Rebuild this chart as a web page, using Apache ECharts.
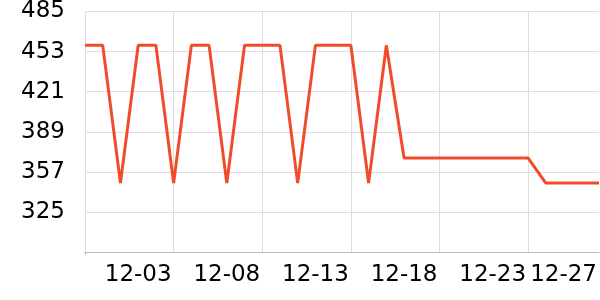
<!DOCTYPE html>
<html>
<head>
<meta charset="utf-8">
<script src="https://cdn.jsdelivr.net/npm/echarts@6/dist/echarts.min.js"></script>
<style>html,body{margin:0;padding:0;background:#fff}#c{width:600px;height:300px}</style>
</head>
<body>
<div id="c"></div>
<script>
const categories = ['11-30','12-01','12-02','12-03','12-04','12-05','12-06','12-07','12-08','12-09',
  '12-10','12-11','12-12','12-13','12-14','12-15','12-16','12-17','12-18','12-19',
  '12-20','12-21','12-22','12-23','12-24','12-25','12-26','12-27','12-28','12-29'];
const values = [458,458,348,458,458,348,458,458,348,458,
  458,458,348,458,458,458,348,458,368,368,
  368,368,368,368,368,368,348,348,348,348];
const labelDays = ['12-03','12-08','12-13','12-18','12-23','12-27'];
const yMin = 293, yMax = 485, yStep = 32;

const chart = echarts.init(document.getElementById('c'), null, {renderer: 'canvas'});
chart.setOption({
  animation: false,
  grid: {left: 85, right: 0, top: 10, bottom: 48, containLabel: false},
  xAxis: {
    type: 'category',
    data: categories,
    boundaryGap: false,
    axisLine: {lineStyle: {color: '#bbbbbb', width: 1}},
    axisTick: {show: true, length: 3, interval: (i) => i === 0, lineStyle: {color: '#bbbbbb'}},
    axisLabel: {
      interval: (i, v) => labelDays.indexOf(v) >= 0,
      color: '#000', fontFamily: 'DejaVu Sans', fontSize: 23, margin: 12
    },
    splitLine: {show: true, interval: 4, lineStyle: {color: '#dddddd', width: 1}}
  },
  yAxis: {
    type: 'value',
    min: yMin, max: yMax, interval: yStep,
    axisLine: {show: false},
    axisTick: {show: false},
    axisLabel: {showMinLabel: false, color: '#000', fontFamily: 'DejaVu Sans', fontSize: 23, margin: 20},
    splitLine: {show: true, lineStyle: {color: '#dddddd', width: 1}}
  },
  series: [{
    type: 'line',
    data: values,
    showSymbol: false,
    symbol: 'none',
    lineStyle: {color: '#f04c2c', width: 3},
    itemStyle: {color: '#f04c2c'}
  }]
});
</script>
</body>
</html>
